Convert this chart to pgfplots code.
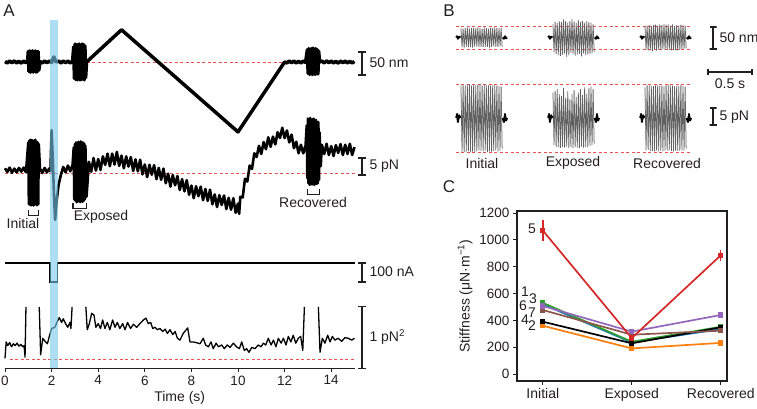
\documentclass[border=0pt]{standalone}
\usepackage{fontspec}
\setmainfont{Liberation Sans}
\usepackage{pgfplots}
\pgfplotsset{compat=1.18}
\usepackage{pgfplotstable}

\newcommand{\fs}[1]{\fontsize{#1}{#1}\selectfont}
\definecolor{txt}{RGB}{35,31,32}
\definecolor{band}{RGB}{120,200,235}
\definecolor{dashred}{RGB}{238,80,80}
\definecolor{cred}{RGB}{214,39,40}
\definecolor{corange}{RGB}{255,127,14}
\definecolor{cgreen}{RGB}{44,160,44}
\definecolor{cblue}{RGB}{31,119,180}
\definecolor{cpurple}{RGB}{148,103,189}
\definecolor{cbrown}{RGB}{140,86,75}

\pgfplotsset{
  trace/.style={hide axis, clip=false, enlargelimits=false, scale only axis, anchor=south west},
  sbar/.style={txt, line width=1.2pt},
  base/.style={color=dashred, line width=0.9pt, dash pattern=on 3pt off 2.5pt},
  osc/.style={black!62, line width=0.75pt},
  flank/.style={black, line width=1.8pt, line join=round},
}

% panel B snippets: local time (s), displacement (nm) and force (pN)
\pgfplotstableread{
t     xi   xe   xr   fi    fe    fr
0.000  21   30   26   9.5   7.5   9.0
0.012 -22  -34  -28 -10.0  -8.0  -9.5
0.024  20   36   27   9.8   8.0   9.8
0.036 -23  -38  -30 -10.0  -8.5  -9.4
0.048  22   33   28   9.6   8.5   9.6
0.060 -21  -40  -29  -9.9  -8.6  -9.8
0.072  23   37   27  10.0   7.0   9.5
0.084 -22  -42  -31  -9.7  -8.8  -9.7
0.096  20   35   28   9.8   6.5   9.4
0.108 -22  -39  -26 -10.0  -8.5  -9.8
0.120  21   41   29   9.5   8.8   9.6
0.132 -23  -36  -30  -9.9  -8.7  -9.5
0.144  22   38   27   9.7   6.0   9.7
0.156 -21  -44  -28 -10.0  -8.4  -9.8
0.168  22   34   30   9.6   7.8   9.4
0.180 -20  -40  -29  -9.8  -8.8  -9.6
0.192  23   37   28   9.9   5.5   9.5
0.204 -22  -35  -27  -9.5  -8.6  -9.8
0.216  21   42   31  10.0   7.0   9.3
0.228 -22  -38  -28  -9.7  -8.9  -9.6
0.240  20   36   29   9.6   8.2   9.7
0.252 -22  -41  -26  -9.8  -8.5  -9.5
0.264  23   33   30   9.9   6.2   9.8
0.276 -21  -39  -28  -9.5  -8.7  -9.4
0.288  22   40   27   9.7   7.5   9.6
0.300 -21  -37  -29 -10.0  -8.8  -9.7
0.312  20   35   30   9.6   8.6   9.5
0.324 -23  -43  -28  -9.8  -8.4  -9.8
0.336  22   38   26   9.5   6.8   9.3
0.348 -21  -36  -29  -9.9  -8.7  -9.6
0.360  22   34   28   9.6   9.0   9.5
0.372 -20  -40  -30  -9.7  -8.5  -9.7
0.384  23   37   27   9.8   7.2   9.4
0.396 -21  -39  -28  -9.5  -8.6  -9.6
0.408  22   35   29   9.6   8.8   9.8
0.420 -22  -38  -27  -9.9  -8.2  -9.5
0.432  21   33   28   9.4   9.2   9.4
0.444 -20  -36  -26  -9.6  -8.0  -9.6
0.456  22   30   27   9.3   8.5   9.2
0.468 -21  -32  -25  -9.0  -7.5  -9.0
}\oscB

\begin{document}
\begin{tikzpicture}[font=\fs{14}, text=txt]
\path[use as bounding box] (0pt,0pt) rectangle (757pt,-408pt);

%% ---------- A: displacement (nm) ----------
\begin{axis}[trace, x=23.3pt, y=0.46pt, xmin=0, xmax=15, ymin=-165, ymax=85, at={(5pt,-137.9pt)}]
\addplot[base] coordinates {(3.5,0) (12,0)};
\addplot[black, line width=3.5pt, line join=round] coordinates {
(0,1)(0.1,-2)(0.2,2)(0.3,-1.5)(0.4,2.5)(0.5,-2)(0.6,1.5)(0.7,-2.5)(0.8,2)(0.9,-1.5)(0.97,1)
(1.0,23)(1.03,-21)(1.06,24)(1.09,-22)(1.12,23)(1.15,-21)(1.18,24)(1.21,-22)(1.24,23)(1.27,-20)(1.3,24)(1.33,-22)(1.36,22)(1.39,-21)(1.42,23)(1.45,-18)
(1.5,1)(1.6,-2)(1.7,2)(1.8,-1.5)(1.9,2)(2.0,-1)(2.05,6)(2.1,11)(2.15,4)(2.2,0)(2.3,2)(2.4,-2)(2.5,2)(2.6,-1.5)(2.7,2)(2.8,-2)(2.9,1.5)
(2.95,33)(2.98,-36)(3.01,39)(3.04,-38)(3.07,37)(3.1,-39)(3.13,38)(3.16,-37)(3.19,39)(3.22,-39)(3.25,36)(3.28,-38)(3.31,39)(3.34,-37)(3.37,38)(3.4,-39)(3.43,35)(3.46,-34)(3.5,0)
(5.0,70)(10.0,-152)(12.0,0)
(12.1,-2)(12.2,2)(12.3,-1.5)(12.4,2)(12.5,-2)(12.6,1.5)(12.7,-2)(12.8,2)(12.9,-1)
(12.98,27)(13.01,-25)(13.04,29)(13.07,-27)(13.1,28)(13.13,-26)(13.16,29)(13.19,-27)(13.22,30)(13.25,-26)(13.28,28)(13.31,-27)(13.34,29)(13.37,-25)(13.4,27)(13.43,-26)(13.46,24)(13.5,0)
(13.6,2)(13.7,-2)(13.8,2.5)(13.9,-1.5)(14.0,2)(14.1,-2)(14.2,1.5)(14.3,-2.5)(14.4,2)(14.5,-1.5)(14.6,2)(14.7,-2)(14.8,1.5)(14.9,-2)(15.0,1)};
\addplot[sbar] coordinates {(15.15,21.7)(15.49,21.7)(15.32,21.7)(15.32,-28.3)(15.15,-28.3)(15.49,-28.3)};
\end{axis}

%% ---------- A: force (pN) ----------
\begin{axis}[trace, x=23.3pt, y=3.4pt, xmin=0, xmax=15, ymin=-16, ymax=18, at={(5pt,-227.4pt)}]
\addplot[base] coordinates {(0,0) (15,0)};
\addplot[black, line width=2.6pt, line join=round] coordinates {
(0,1.4)(0.1,0.3)(0.2,1.6)(0.3,0.1)(0.4,1.3)(0.5,0.2)(0.6,1.5)(0.7,0.4)(0.8,1.6)(0.9,0.2)
(1.0,9.0)(1.025,-9.2)(1.05,9.6)(1.075,-9.4)(1.1,9.8)(1.125,-9.5)(1.15,9.7)(1.175,-9.0)(1.2,9.5)(1.225,-9.6)(1.25,9.4)(1.275,-9.3)(1.3,9.8)(1.325,-9.0)(1.35,9.2)(1.375,-9.5)(1.4,9.0)(1.425,-9.2)(1.45,8.5)
(1.5,1.3)(1.6,0.0)(1.7,1.5)(1.8,0.2)(1.9,1.3)(1.95,0.5)(2.0,12.6)(2.05,4)(2.1,-6)(2.15,-13.8)(2.22,-8)(2.3,-3.5)(2.4,-0.5)(2.5,1.8)(2.6,0.2)(2.7,2.2)(2.8,0.5)(2.9,2.4)
(2.95,7.5)(2.975,-7.8)(3.0,8.5)(3.025,-8.2)(3.05,9.0)(3.075,-8.6)(3.1,8.2)(3.125,-8.4)(3.15,9.2)(3.175,-8.0)(3.2,8.8)(3.225,-8.6)(3.25,9.3)(3.275,-8.3)(3.3,8.0)(3.325,-8.5)(3.35,9.0)(3.375,-8.2)(3.4,8.6)(3.425,-7.8)(3.45,8.0)(3.5,-7.0)
(3.6,3.3)(3.7,0.4)(3.8,4.4)(3.9,0.7)(4.0,4.1)(4.1,0.9)(4.2,4.9)(4.3,2.4)(4.4,5.7)(4.5,2.0)(4.6,5.7)(4.7,2.5)(4.8,6.2)(4.9,2.1)(5.0,5.1)(5.1,1.4)(5.2,4.9)(5.3,1.9)(5.4,4.7)(5.5,0.6)(5.6,4.0)(5.7,0.5)(5.8,3.9)(5.9,-0.4)(6.0,2.5)(6.1,-1.2)(6.2,2.4)(6.3,-0.5)(6.4,2.3)(6.5,-1.8)(6.6,1.5)(6.7,-2.0)(6.8,1.3)(6.9,-3.0)(7.0,-0.2)(7.1,-4.0)(7.2,-0.6)(7.3,-3.6)(7.4,-0.9)(7.5,-5.0)(7.6,-1.8)(7.7,-5.4)(7.8,-2.1)(7.9,-6.4)(8.0,-3.7)(8.1,-7.4)(8.2,-3.9)(8.3,-6.8)(8.4,-4.0)(8.5,-8.0)(8.6,-4.7)(8.7,-8.2)(8.8,-4.9)(8.9,-9.2)(9.0,-6.3)(9.1,-10.0)(9.2,-6.5)(9.3,-9.4)(9.4,-6.6)(9.5,-10.6)(9.6,-7.3)(9.7,-10.8)(9.8,-7.4)(9.9,-11.7)(10.0,-9.0)(10.05,-12.0)
(10.1,-7.0)(10.2,-7.2)(10.3,-1.7)(10.4,-2.5)(10.5,2.2)(10.6,1.2)(10.7,5.8)(10.8,4.7)(10.9,8.0)(11.0,5.6)(11.1,9.1)(11.2,7.0)(11.3,10.5)(11.4,7.7)(11.5,10.7)(11.6,8.4)(11.7,12.0)(11.8,10.3)(11.9,13.3)(12.0,10.3)(12.1,12.5)(12.2,9.0)(12.3,11.3)(12.4,7.3)(12.5,9.2)(12.6,5.8)(12.7,8.3)(12.8,5.8)(12.9,8.1)
(12.95,14.0)(12.975,-1.5)(13.0,16.0)(13.025,-3.0)(13.05,15.5)(13.075,-3.5)(13.1,16.2)(13.125,-2.8)(13.15,15.0)(13.175,-3.4)(13.2,15.8)(13.225,-3.0)(13.25,16.0)(13.275,-3.5)(13.3,15.2)(13.325,-2.6)(13.35,15.6)(13.375,-3.2)(13.4,14.8)(13.425,-3.0)(13.45,15.0)(13.475,-2.0)(13.5,12.0)
(13.55,2.0)(13.6,8.3)(13.7,5.6)(13.8,8.6)(13.9,5.3)(14.0,7.9)(14.1,5.0)(14.2,8.2)(14.3,5.9)(14.4,8.5)(14.5,5.3)(14.6,8.3)(14.7,5.6)(14.8,8.6)(14.9,5.3)(15.0,7.6)};
% brackets
\addplot[sbar, line width=1.1pt] coordinates {(1.0,-10.9)(1.0,-12.4)(1.45,-12.4)(1.45,-10.9)};
\addplot[sbar, line width=1.1pt] coordinates {(2.92,-8.9)(2.92,-10.4)(3.48,-10.4)(3.48,-8.9)};
\addplot[sbar, line width=1.1pt] coordinates {(12.98,-4.7)(12.98,-6.2)(13.5,-6.2)(13.5,-4.7)};
\addplot[sbar] coordinates {(15.15,4.4)(15.49,4.4)(15.32,4.4)(15.32,-0.6)(15.15,-0.6)(15.49,-0.6)};
\end{axis}

%% ---------- A: current (nA) ----------
\begin{axis}[trace, x=23.3pt, y=0.19pt, xmin=0, xmax=15, ymin=-110, ymax=10, at={(5pt,-283.9pt)}]
\addplot[black, line width=1.3pt] coordinates {(0,0)(1.93,0)(1.93,-100)(2.26,-100)(2.26,0)(15,0)};
\addplot[sbar] coordinates {(15.15,0)(15.49,0)(15.32,0)(15.32,-100)(15.15,-100)(15.49,-100)};
\end{axis}

%% ---------- B: displacement snippets ----------
\begin{axis}[trace, x=88pt, y=0.44pt, xmin=-0.06, xmax=0.53, ymin=-50, ymax=50, at={(455.7pt,-59.5pt)}]
\addplot[base] coordinates {(-0.057,26.1) (2.614,26.1)};
\addplot[base] coordinates {(-0.057,-26.1) (2.614,-26.1)};
\addplot[osc] table[x=t, y=xi] {\oscB};
\addplot[flank] coordinates {(-0.055,0)(-0.045,3)(-0.035,-3)(-0.02,2)(-0.005,0)};
\addplot[flank] coordinates {(0.473,0)(0.488,-3)(0.5,3)(0.512,-2)(0.525,0)};
\addplot[sbar] coordinates {(2.824,23.9)(2.904,23.9)(2.864,23.9)(2.864,-26.1)(2.824,-26.1)(2.904,-26.1)};
\addplot[sbar] coordinates {(2.807,-71.6)(2.807,-85.2)(2.807,-78.4)(3.307,-78.4)(3.307,-71.6)(3.307,-85.2)};
\end{axis}
\begin{axis}[trace, x=88pt, y=0.44pt, xmin=-0.06, xmax=0.53, ymin=-50, ymax=50, at={(547.7pt,-59.5pt)}]
\addplot[osc] table[x=t, y=xe] {\oscB};
\addplot[flank] coordinates {(-0.055,0)(-0.045,3)(-0.035,-3)(-0.02,2)(-0.005,0)};
\addplot[flank] coordinates {(0.473,0)(0.488,-3)(0.5,3)(0.512,-2)(0.525,0)};
\end{axis}
\begin{axis}[trace, x=88pt, y=0.44pt, xmin=-0.06, xmax=0.53, ymin=-50, ymax=50, at={(639.7pt,-59.5pt)}]
\addplot[osc] table[x=t, y=xr] {\oscB};
\addplot[flank] coordinates {(-0.055,0)(-0.045,3)(-0.035,-3)(-0.02,2)(-0.005,0)};
\addplot[flank] coordinates {(0.473,0)(0.488,-3)(0.5,3)(0.512,-2)(0.525,0)};
\end{axis}

%% ---------- B: force snippets ----------
\begin{axis}[trace, x=88pt, y=3.4pt, xmin=-0.06, xmax=0.53, ymin=-12, ymax=12, at={(455.7pt,-158.8pt)}]
\addplot[base] coordinates {(-0.057,10) (2.614,10)};
\addplot[base] coordinates {(-0.057,-10) (2.614,-10)};
\addplot[osc] table[x=t, y=fi] {\oscB};
\addplot[flank] coordinates {(-0.055,0)(-0.045,1.2)(-0.035,-1.2)(-0.02,0.8)(-0.005,0)};
\addplot[flank] coordinates {(0.473,0)(0.488,-1.2)(0.5,1.2)(0.512,-0.8)(0.525,0)};
\addplot[sbar] coordinates {(2.824,2.94)(2.904,2.94)(2.864,2.94)(2.864,-2.06)(2.824,-2.06)(2.904,-2.06)};
\end{axis}
\begin{axis}[trace, x=88pt, y=3.4pt, xmin=-0.06, xmax=0.53, ymin=-12, ymax=12, at={(547.7pt,-158.8pt)}]
\addplot[osc] table[x=t, y=fe] {\oscB};
\addplot[flank] coordinates {(-0.055,0)(-0.045,1.2)(-0.035,-1.2)(-0.02,0.8)(-0.005,0)};
\addplot[flank] coordinates {(0.473,0)(0.488,-1.2)(0.5,1.2)(0.512,-0.8)(0.525,0)};
\end{axis}
\begin{axis}[trace, x=88pt, y=3.4pt, xmin=-0.06, xmax=0.53, ymin=-12, ymax=12, at={(639.7pt,-158.8pt)}]
\addplot[osc] table[x=t, y=fr] {\oscB};
\addplot[flank] coordinates {(-0.055,0)(-0.045,1.2)(-0.035,-1.2)(-0.02,0.8)(-0.005,0)};
\addplot[flank] coordinates {(0.473,0)(0.488,-1.2)(0.5,1.2)(0.512,-0.8)(0.525,0)};
\end{axis}

%% ---------- C: stiffness ----------
\begin{axis}[at={(517pt,-381pt)}, anchor=south west, scale only axis,
  width=210pt, height=170pt, xmin=-0.29, xmax=2.07, ymin=-52, ymax=1215,
  xtick={0,1,2}, xticklabels={Initial,Exposed,Recovered},
  ytick={0,200,...,1200}, tick pos=left, tick align=outside,
  major tick length=4pt, axis line style={line width=1.1pt, txt},
  tick style={line width=1pt, txt},
  /pgf/number format/assume math mode=true, /pgf/number format/1000 sep={},
  yticklabel style={font=\fs{13.5}}, xticklabel style={font=\fs{14}},
  ylabel={Stiffness (μN·m\textsuperscript{−1})}, ylabel style={font=\fs{14}},
  every axis plot/.append style={line width=1.7pt, mark=square*, mark size=1.8pt}]
\addplot[cblue] coordinates {(0,520)(1,235)(2,335)};
\addplot[cgreen] coordinates {(0,531)(1,241)(2,352)};
\addplot[corange] coordinates {(0,360)(1,191)(2,232)};
\addplot[black] coordinates {(0,390)(1,229)(2,348)};
\addplot[cbrown] coordinates {(0,477)(1,293)(2,323)};
\addplot[cpurple] coordinates {(0,507)(1,316)(2,440)};
\addplot[cred, error bars/.cd, y dir=both, y explicit, error mark=none,
  error bar style={line width=1.4pt}] coordinates {(0,1070) +- (0,80) (1,268) +- (0,12) (2,885) +- (0,40)};
\end{axis}

%% ---------- A: variance (pN^2) with time axis ----------
\begin{axis}[x=23.3pt, y=61pt, xmin=0, xmax=15, ymin=-0.15, ymax=0.9,
  at={(5pt,-368.15pt)}, anchor=south west, scale only axis, clip=false, enlargelimits=false,
  axis x line*=bottom, axis y line=none, xtick={0,2,...,14}, tick align=outside,
  major tick length=4pt, axis line style={line width=1.3pt, txt}, tick style={line width=1pt, txt},
  /pgf/number format/assume math mode=true, ticklabel style={font=\fs{13.5}},
  xlabel={Time (s)}, xlabel style={font=\fs{14}, yshift=1pt}, unbounded coords=jump]
\addplot[base] coordinates {(0.2,0) (15,0)};
\addplot[black, line width=1.3pt, line join=round] coordinates {
(0,0.01)(0.05,0.28)(0.12,0.22)(0.2,0.27)(0.28,0.2)(0.36,0.25)(0.44,0.22)(0.52,0.26)(0.6,0.21)(0.68,0.24)(0.76,0.2)(0.82,0.22)(0.86,0.03)(0.9,0.855)
(1.2,nan)
(1.47,0.855)(1.53,0.07)(1.62,0.34)(1.72,0.29)(1.82,0.25)(1.9,0.37)(2.0,0.5)(2.14,0.52)(2.24,0.61)(2.33,0.68)(2.43,0.6)(2.5,0.66)(2.6,0.58)(2.69,0.52)(2.79,0.6)(2.83,0.5)(2.88,0.855)
(3.2,nan)
(3.47,0.855)(3.53,0.48)(3.62,0.58)(3.72,0.75)(3.82,0.72)(3.9,0.52)(4.0,0.58)(4.1,0.5)(4.19,0.64)(4.29,0.5)(4.39,0.6)(4.5,0.48)(4.62,0.64)(4.72,0.52)(4.82,0.6)(4.93,0.5)(5.05,0.58)(5.15,0.48)(5.26,0.6)(5.39,0.5)(5.51,0.57)(5.65,0.52)(5.79,0.58)(5.94,0.64)(6.05,0.67)(6.15,0.58)(6.25,0.6)(6.34,0.5)(6.44,0.52)(6.54,0.48)(6.65,0.5)(6.77,0.45)(6.87,0.49)(6.97,0.42)(7.08,0.48)(7.2,0.4)(7.3,0.45)(7.4,0.34)(7.51,0.31)(7.65,0.42)(7.84,0.51)(7.94,0.28)(8.08,0.28)(8.2,0.27)(8.37,0.25)(8.51,0.34)(8.61,0.23)(8.73,0.2)(8.84,0.28)(8.94,0.17)(9.06,0.26)(9.16,0.2)(9.3,0.23)(9.41,0.17)(9.54,0.23)(9.66,0.19)(9.8,0.26)(9.94,0.2)(10.06,0.17)(10.16,0.28)(10.27,0.14)(10.37,0.17)(10.47,0.11)(10.59,0.19)(10.73,0.17)(10.87,0.23)(10.99,0.2)(11.09,0.26)(11.19,0.23)(11.3,0.34)(11.42,0.23)(11.52,0.31)(11.63,0.2)(11.73,0.34)(11.85,0.26)(11.95,0.34)(12.06,0.23)(12.16,0.37)(12.27,0.28)(12.37,0.39)(12.48,0.26)(12.59,0.34)(12.69,0.37)(12.78,0.14)(12.85,0.855)
(13.1,nan)
(13.45,0.855)(13.52,0.11)(13.62,0.34)(13.73,0.26)(13.85,0.39)(13.95,0.28)(14.05,0.37)(14.16,0.31)(14.3,0.34)(14.45,0.29)(14.59,0.35)(14.73,0.34)(14.88,0.31)(15.0,0.34)};
\addplot[sbar] coordinates {(15.15,0.855)(15.49,0.855)(15.32,0.855)(15.32,-0.15)(15.15,-0.15)(15.49,-0.15)};
% light stimulus
\addplot[draw=none, fill=band, fill opacity=0.6] coordinates {(1.93,-0.15)(2.26,-0.15)(2.26,5.56)(1.93,5.56)} -- cycle;
\end{axis}

%% ---------- text ----------
\node[font=\fs{17}] at (9pt,-11pt) {A};
\node[font=\fs{17}] at (449pt,-11pt) {B};
\node[font=\fs{17}] at (449pt,-187pt) {C};
\node[anchor=west] at (366pt,-63pt) {50 nm};
\node[anchor=west] at (366pt,-166pt) {5 pN};
\node[anchor=west] at (366pt,-272pt) {100 nA};
\node[anchor=west] at (366pt,-337pt) {1 pN\textsuperscript{2}};
\node at (23pt,-223pt) {Initial};
\node at (101pt,-217pt) {Exposed};
\node at (313pt,-202pt) {Recovered};
\node at (482pt,-163pt) {Initial};
\node at (573pt,-163pt) {Exposed};
\node at (667pt,-163pt) {Recovered};
\node[anchor=west] at (716pt,-38pt) {50 nm};
\node at (730pt,-84pt) {0.5 s};
\node[anchor=west] at (716pt,-117pt) {5 pN};
\node at (532pt,-229pt) {5};
\node at (525pt,-292pt) {1};
\node at (533pt,-299pt) {3};
\node at (523pt,-306pt) {6};
\node at (532pt,-313pt) {7};
\node at (525pt,-320pt) {4};
\node at (532pt,-326pt) {2};
\end{tikzpicture}
\end{document}
